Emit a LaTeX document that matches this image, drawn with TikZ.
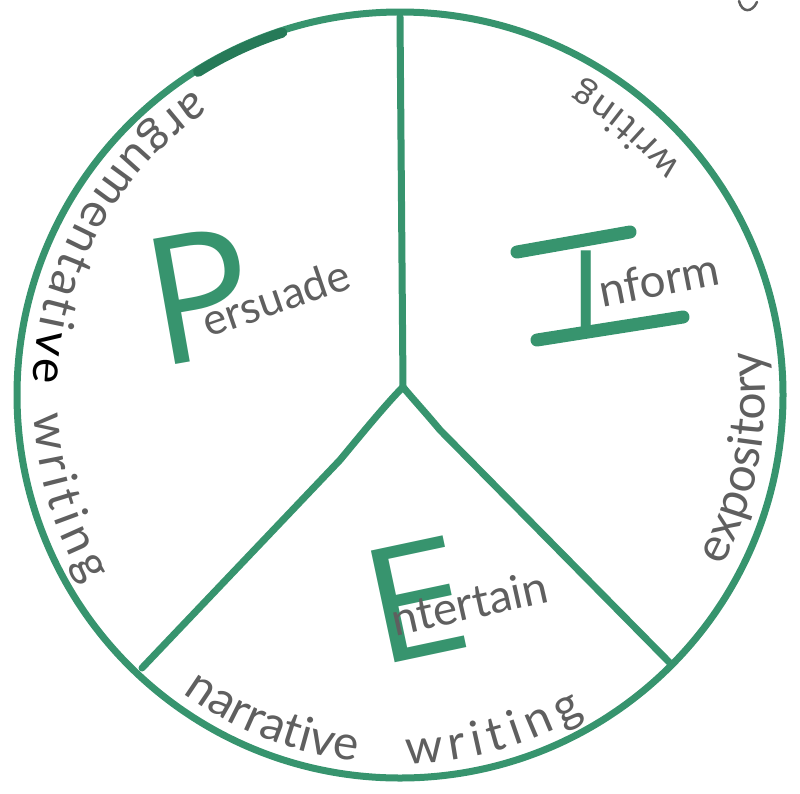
\documentclass[tikz,border=0pt]{standalone}
\usepackage{fontspec}
\setmainfont{Lato}
\newfontfamily\bigfont{Open Sans}
\newfontfamily\handfont{Lato}
\usetikzlibrary{decorations.text}
\definecolor{mk}{RGB}{55,148,110}
\definecolor{mkdark}{RGB}{38,122,88}
\definecolor{pencil}{RGB}{95,95,95}
\newcommand\hwfont{\handfont\fontsize{48}{48}\selectfont}
\newcommand\hwsmall{\handfont\fontsize{38}{38}\selectfont}
\tikzset{
  ring/.style={draw=mk, line width=7pt},
  divider/.style={draw=mk, line width=7pt, line cap=round, line join=round},
  bigletter/.style={text=mk, font=\bigfont\fontsize{#1}{#1}\selectfont, inner sep=0pt},
  word/.style={text=pencil, font=\handfont\fontsize{#1}{#1}\selectfont, inner sep=0pt, anchor=base},
  bar/.style={draw=mk, line width=13pt, line cap=round},
  arctext/.style={decorate, decoration={text along path, text align=fit to path, text={#1}}},
}
\begin{document}
\begin{tikzpicture}[x=1pt,y=1pt]
\useasboundingbox (0,0) rectangle (800,-793);
\coordinate (C) at (400,-395);
\coordinate (T) at (400,-17);
\coordinate (J) at (403,-387);
\coordinate (BL) at (142,-668);
\coordinate (BR) at (670,-663);
% outer ring
\draw[ring] (C) circle[radius=383pt];
\draw[mkdark, line width=10pt, line cap=round] (C) ++(108:381pt) arc[start angle=108, end angle=122, radius=381pt];
% dividers
\draw[divider] (T) -- (J);
\draw[divider] (J) .. controls (385,-405) and (355,-442) .. (340,-460) -- (BL);
\draw[divider] (J) .. controls (412,-398) and (425,-412) .. (440,-430) -- (BR);
% big letters
\node[bigletter=178, rotate=10] (bigP) at (200,-296) {P};
\node[bigletter=120] (bigI) at (586,-294) {I};
\draw[bar] (517,-252) -- (630,-232);
\draw[bar] (537,-340) -- (683,-317);
\node[bigletter=160, rotate=12, xscale=1.15] (bigE) at (416,-600) {E};
% words
\node[word=44, rotate=19] (wP) at (281,-313) {ersuade};
\node[word=46, rotate=11] (wI) at (662,-296) {nform};
\node[word=46, rotate=12.6] (wE) at (473,-619) {ntertain};
% curved labels
\path[arctext={|\hwfont\color{pencil}|argumentati|\hwfont\color{black}|ve}] (C) ++(124:367pt) arc[start angle=124, end angle=178, radius=367pt];
\path[arctext={|\hwfont\color{pencil}|writing}] (C) ++(183:367pt) arc[start angle=183, end angle=211, radius=367pt];
\path[arctext={|\hwfont\color{pencil}|narrative}] (C) ++(234:369pt) arc[start angle=234, end angle=263, radius=369pt];
\path[arctext={|\hwfont\color{pencil}|writing}] (C) ++(271:369pt) arc[start angle=271, end angle=300, radius=369pt];
\path[arctext={|\hwfont\color{pencil}|expository}] (C) ++(-28:365pt) arc[start angle=-28, end angle=6, radius=365pt];
\path[arctext={|\hwsmall\color{pencil}|writing}] (C) ++(39:362pt) arc[start angle=39, end angle=60, radius=362pt];
% stray mark
\draw[pencil, line width=2.5pt, line cap=round] (739,-1) .. controls (742,-13) and (752,-13) .. (757,-2);
\end{tikzpicture}
\end{document}
